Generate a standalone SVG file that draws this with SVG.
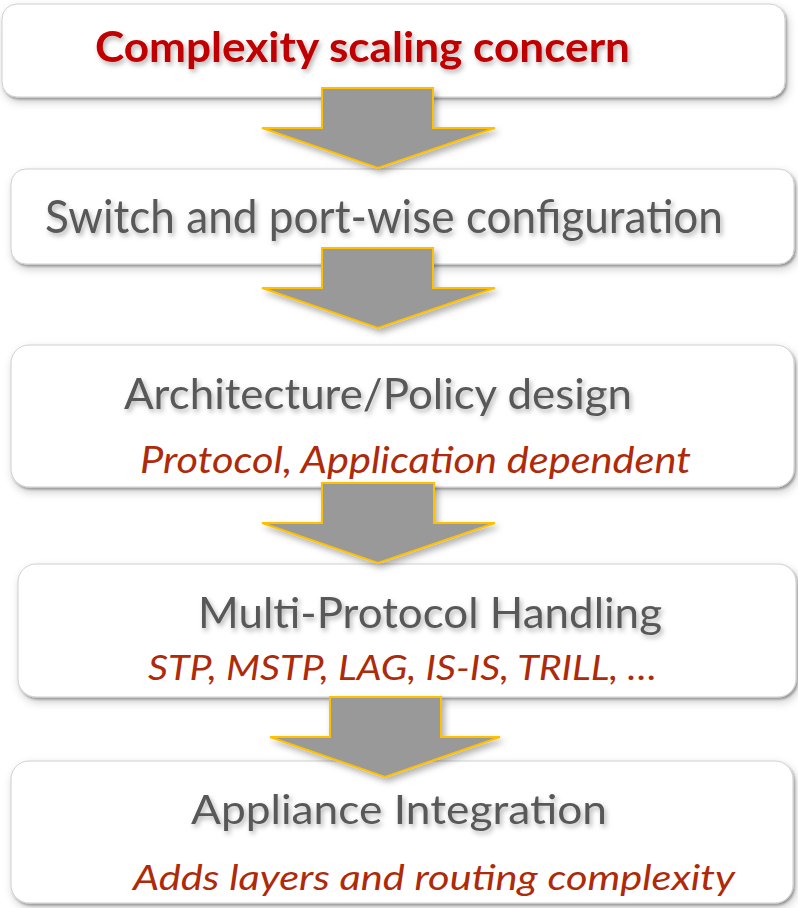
<svg xmlns="http://www.w3.org/2000/svg" width="798" height="908" viewBox="0 0 798 908">
<defs>
<filter id="boxsh" x="-5%" y="-20%" width="110%" height="150%">
<feDropShadow dx="1.5" dy="2" stdDeviation="1" flood-color="#000" flood-opacity="0.3" result="s1"/>
<feDropShadow dx="2" dy="4" stdDeviation="4" flood-color="#000" flood-opacity="0.2"/>
</filter>
<filter id="arrsh" x="-20%" y="-20%" width="140%" height="150%">
<feDropShadow dx="3" dy="4" stdDeviation="3" flood-color="#000" flood-opacity="0.3"/>
</filter>
<filter id="txtsh" x="-5%" y="-30%" width="110%" height="170%">
<feDropShadow dx="2" dy="3" stdDeviation="2.5" flood-color="#000" flood-opacity="0.3"/>
</filter>
</defs>
<style>
.box{fill:#ffffff;stroke:#cfcfcf;stroke-width:1;filter:url(#boxsh)}
.arr{fill:#999999;stroke:#FFC000;stroke-width:2;stroke-linejoin:miter;filter:url(#arrsh)}
.main{font-family:Lato,"Open Sans","Liberation Sans",sans-serif;fill:#595959;filter:url(#txtsh)}
.title{font-family:Lato,"Open Sans","Liberation Sans",sans-serif;fill:#C00000;font-weight:bold;filter:url(#txtsh)}
.sub{font-family:Lato,"Open Sans","Liberation Sans",sans-serif;fill:#AE2A08;font-style:italic}
</style>
<g id="node1">
<rect class="box" x="2" y="4" width="783" height="93" rx="15"/>
<text class="title" x="95" y="62" font-size="42" textLength="535" lengthAdjust="spacingAndGlyphs">Complexity scaling concern</text>
</g>
<g id="node2">
<rect class="box" x="11" y="169" width="783" height="95" rx="15"/>
<text class="main" x="45" y="233" font-size="46" textLength="678" lengthAdjust="spacingAndGlyphs">Switch and port-wise configuration</text>
</g>
<g id="node3">
<rect class="box" x="11" y="345" width="783" height="142" rx="18"/>
<text class="main" x="124" y="409" font-size="43" textLength="508" lengthAdjust="spacingAndGlyphs">Architecture/Policy design</text>
<text class="sub" x="140" y="473" font-size="36" textLength="551" lengthAdjust="spacingAndGlyphs">Protocol, Application dependent</text>
</g>
<g id="node4">
<rect class="box" x="18" y="564" width="778" height="133" rx="18"/>
<text class="main" x="198" y="628" font-size="43" textLength="464" lengthAdjust="spacingAndGlyphs">Multi-Protocol Handling</text>
<text class="sub" x="148" y="680" font-size="34" textLength="509" lengthAdjust="spacingAndGlyphs">STP, MSTP, LAG, IS-IS, TRILL, …</text>
</g>
<g id="node5">
<rect class="box" x="11" y="761" width="782" height="142" rx="18"/>
<text class="main" x="191" y="824" font-size="41" textLength="416" lengthAdjust="spacingAndGlyphs">Appliance Integration</text>
<text class="sub" x="133" y="890" font-size="35" textLength="602" lengthAdjust="spacingAndGlyphs">Adds layers and routing complexity</text>
</g>
<g id="connectors">
<path class="arr" d="M322,88 H433 V128 H495 L378,168 L262,128 H322 Z"/>
<path class="arr" d="M322,248 H433 V288 H495 L378,328 L262,288 H322 Z"/>
<path class="arr" d="M322,483 H434 V523 H495 L378,563 L262,523 H322 Z"/>
<path class="arr" d="M330,697 H441 V737 H500 L385,777 L270,737 H330 Z"/>
</g>
</svg>
